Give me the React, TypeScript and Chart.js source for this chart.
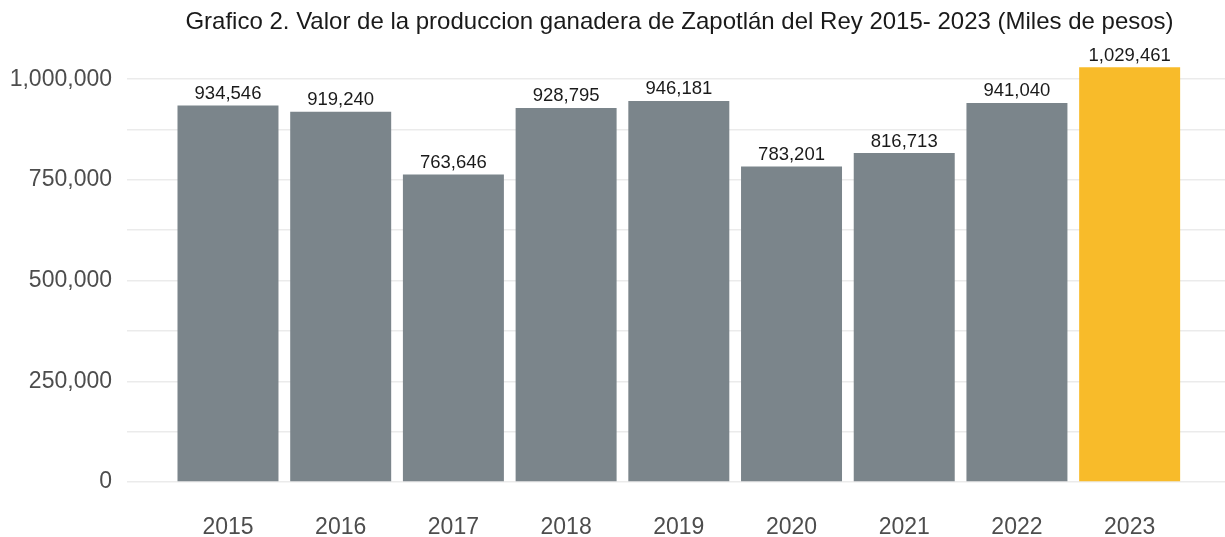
import React, { useEffect, useRef } from "react";
import { Chart, registerables } from "chart.js";

Chart.register(...registerables);

const years: string[] = ["2015", "2016", "2017", "2018", "2019", "2020", "2021", "2022", "2023"];
const values: number[] = [934546, 919240, 763646, 928795, 946181, 783201, 816713, 941040, 1029461];
const yTickValues: number[] = [0, 125000, 250000, 375000, 500000, 625000, 750000, 875000, 1000000];
const titleText = "Grafico 2. Valor de la produccion ganadera de Zapotlán del Rey 2015- 2023 (Miles de pesos)";

const GREY = "#7b858b";
const YELLOW = "#f8bb2a";
const FONT = "'Liberation Sans', Arial, sans-serif";

const fmt = (n: number) => n.toLocaleString("en-US");

export default function App() {
  const ref = useRef<HTMLCanvasElement | null>(null);

  useEffect(() => {
    document.body.style.margin = "0";
    const canvas = ref.current;
    if (!canvas) return;

    const labelPlugin = {
      id: "barLabels",
      afterDatasetsDraw(chart: any) {
        const ctx = chart.ctx;
        const meta = chart.getDatasetMeta(0);
        ctx.save();
        ctx.font = `18.5px ${FONT}`;
        ctx.fillStyle = "#1a1a1a";
        ctx.textAlign = "center";
        ctx.textBaseline = "alphabetic";
        meta.data.forEach((bar: any, i: number) => {
          ctx.fillText(fmt(values[i]), bar.x, bar.y - 6.5);
        });
        ctx.restore();
      },
    };

    const titlePlugin = {
      id: "customTitle",
      afterDraw(chart: any) {
        const ctx = chart.ctx;
        ctx.save();
        ctx.font = `24px ${FONT}`;
        ctx.fillStyle = "#1a1a1a";
        ctx.textAlign = "center";
        ctx.textBaseline = "alphabetic";
        ctx.fillText(titleText, 679.5, 29);
        ctx.restore();
      },
    };

    const bgPlugin = {
      id: "bg",
      beforeDraw(chart: any) {
        const ctx = chart.ctx;
        ctx.save();
        ctx.fillStyle = "#ffffff";
        ctx.fillRect(0, 0, chart.width, chart.height);
        ctx.restore();
      },
    };

    const chart = new Chart(canvas, {
      type: "bar",
      data: {
        datasets: [
          {
            data: values.map((v, i) => ({ x: i, y: v })),
            backgroundColor: years.map((_, i) => (i === years.length - 1 ? YELLOW : GREY)),
            borderWidth: 0,
            barPercentage: 0.896,
            categoryPercentage: 1,
          },
        ],
      },
      options: {
        animation: false,
        responsive: false,
        maintainAspectRatio: false,
        layout: { padding: { top: 47, left: 0, right: 0, bottom: 0 } },
        plugins: {
          legend: { display: false },
          title: { display: false },
          tooltip: { enabled: false },
        },
        scales: {
          x: {
            type: "linear",
            offset: false,
            min: -0.896,
            max: 8.846,
            grid: { display: false, offset: false },
            border: { display: false },
            afterBuildTicks: (scale: any) => {
              scale.ticks = years.map((_, i) => ({ value: i }));
            },
            afterFit: (scale: any) => {
              scale.height = 55;
            },
            ticks: {
              autoSkip: false,
              maxRotation: 0,
              padding: 24,
              color: "#4d4d4d",
              font: { family: FONT, size: 23 },
              callback: (v: any) => years[Math.round(Number(v))] ?? "",
            },
          },
          y: {
            min: 0,
            max: 1080000,
            grid: { color: "#ebebeb", lineWidth: 1.6, drawTicks: false },
            border: { display: false },
            afterBuildTicks: (scale: any) => {
              scale.ticks = yTickValues.map((v) => ({ value: v }));
            },
            afterFit: (scale: any) => {
              scale.width = 127;
            },
            ticks: {
              padding: 15,
              color: "#4d4d4d",
              font: { family: FONT, size: 23 },
              callback: (v: any) => (Number(v) % 250000 === 0 ? fmt(Number(v)) : ""),
            },
          },
        },
      },
      plugins: [bgPlugin, labelPlugin, titlePlugin],
    } as any);

    return () => chart.destroy();
  }, []);

  return <canvas ref={ref} width={1225} height={537} style={{ display: "block" }} />;
}
